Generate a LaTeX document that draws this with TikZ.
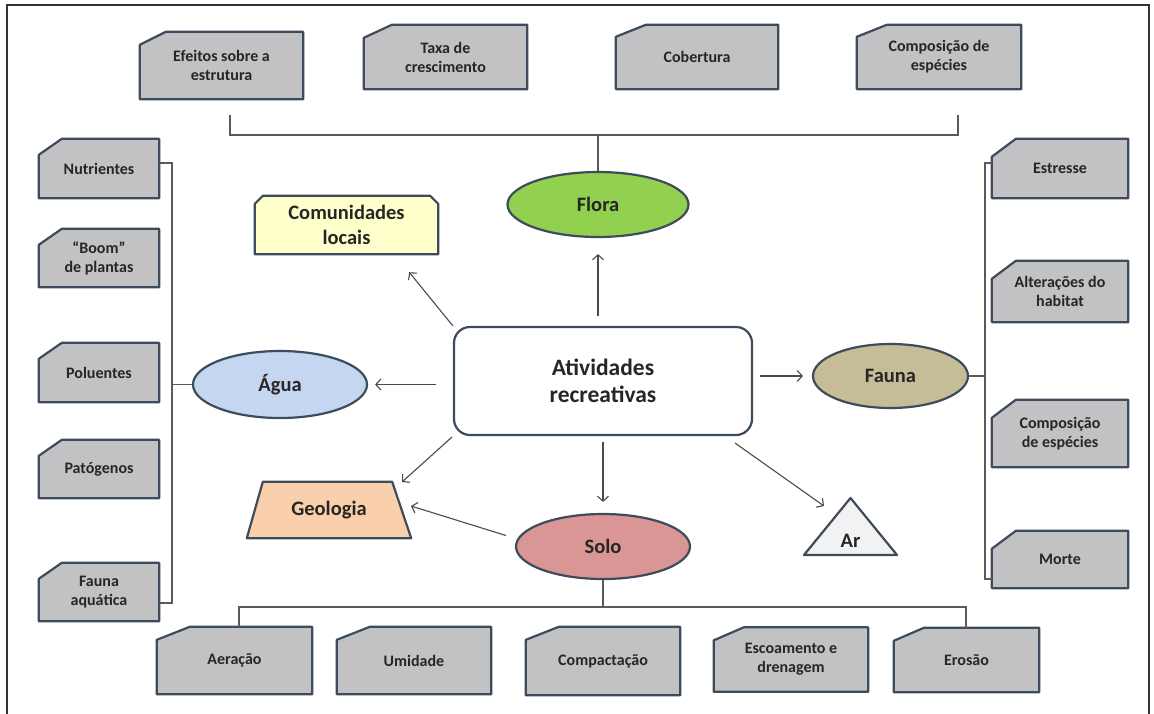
\documentclass[tikz,border=0pt]{standalone}
\usepackage{fontspec}
\setmainfont{Carlito}
\usetikzlibrary{shapes.geometric,arrows.meta,calc,backgrounds}
\definecolor{edge}{HTML}{3D4B5C}
\definecolor{boxfill}{HTML}{C2C2C4}
\definecolor{txt}{HTML}{262626}
\definecolor{arrc}{HTML}{4A4A4A}
\definecolor{brkc}{HTML}{5A5A5A}
\definecolor{florac}{HTML}{92D050}
\definecolor{aguac}{HTML}{C5D6F0}
\definecolor{soloc}{HTML}{D99694}
\definecolor{faunac}{HTML}{C4BD97}
\definecolor{geoc}{HTML}{FAD0AC}
\definecolor{comc}{HTML}{FFFFCC}
\definecolor{arc}{HTML}{F2F2F2}
% name, centre, width, height, text, chamfer x, chamfer y
\newcommand\chbox[7]{%
  \node[boxtxt,minimum width=#3pt,minimum height=#4pt] (#1) at (#2) {#5};
  \begin{pgfonlayer}{background}
  \draw[boxline] ([xshift=#6pt]#1.north west) -- (#1.north east) -- (#1.south east) -- (#1.south west) -- ([yshift=-#7pt]#1.north west) -- cycle;
  \end{pgfonlayer}}
\begin{document}
\begin{tikzpicture}[x=1pt,y=-1pt,
  boxtxt/.style={text=txt,font=\bfseries\fontsize{16}{19}\selectfont,align=center,inner sep=0pt},
  boxline/.style={draw=edge,fill=boxfill,line width=2.2pt,line join=round},
  midtxt/.style={text=txt,font=\bfseries\fontsize{20.5}{25}\selectfont,align=center,inner sep=0pt},
  ell/.style={ellipse,draw=edge,line width=2.2pt,inner sep=0pt,midtxt},
  shapeline/.style={draw=edge,line width=2.2pt,line join=round},
  arr/.style={draw=arrc,line width=1.1pt,-{Straight Barb[length=5pt,width=11pt]}},
  brk/.style={draw=brkc,line width=1.2pt},
  frame/.style={draw=black!80,line width=1.6pt}]
\useasboundingbox (0,0) rectangle (1154,713);
\begin{pgfonlayer}{background}
\fill[white] (0,0) rectangle (1154,713);
\end{pgfonlayer}
\draw[frame] (7,720) -- (7,5) -- (1149,5) -- (1149,720);

% top boxes
\chbox{efe}{221.5,65.5}{163}{67}{Efeitos sobre a\\estrutura}{26}{13}
\chbox{taxa}{445.5,57}{163}{64}{Taxa de\\crescimento}{28}{13}
\chbox{cob}{697,57}{162}{64}{Cobertura}{30}{12}
\chbox{comp}{939,57}{164}{64}{Composição de\\espécies}{30}{12}
% left boxes
\chbox{nut}{99,168.5}{120}{59}{Nutrientes}{23}{16}
\chbox{boom}{99,258}{120}{58}{“Boom”\\de plantas}{23}{16}
\chbox{polu}{99,372.5}{120}{59}{Poluentes}{23}{16}
\chbox{pato}{99,469}{120}{58}{Patógenos}{23}{16}
\chbox{faq}{99,592}{120}{58}{Fauna\\aquática}{23}{16}
% right boxes
\chbox{est}{1060,168.5}{136}{59}{Estresse}{24}{18}
\chbox{alt}{1060,291.5}{136}{61}{Alterações do\\habitat}{24}{18}
\chbox{cesp}{1060,433.5}{136}{67}{Composição\\de espécies}{24}{18}
\chbox{mor}{1060,559.5}{136}{57}{Morte}{24}{18}
% bottom boxes
\chbox{aer}{234.5,660.5}{155}{67}{Aeração}{33}{13}
\chbox{umi}{414,660.5}{154}{67}{Umidade}{33}{13}
\chbox{cpt}{603,661}{154}{68}{Compactação}{33}{13}
\chbox{esc}{791,659.5}{154}{64}{Escoamento e\\drenagem}{30}{13}
\chbox{ero}{966.5,660}{145}{64}{Erosão}{30}{13}

% central and theme nodes
\node[draw=edge,line width=2.2pt,fill=white,rounded corners=16pt,minimum width=298pt,minimum height=108pt,
  text=txt,font=\bfseries\fontsize{23.5}{27}\selectfont,align=center,inner sep=0pt] (act) at (603,381) {Atividades\\recreativas};
\node[ell,fill=florac,minimum width=181pt,minimum height=65pt] (flora) at (598,204.5) {Flora};
\node[ell,fill=aguac,minimum width=174pt,minimum height=67pt] (agua) at (280,384.5) {Água};
\node[ell,fill=faunac,minimum width=155pt,minimum height=64pt] (fauna) at (890.5,376) {Fauna};
\node[ell,fill=soloc,minimum width=174pt,minimum height=65pt] (solo) at (603,546.5) {Solo};

\node[midtxt,minimum width=183pt,minimum height=58pt] (com) at (346.5,225) {Comunidades\\locais};
\node[midtxt,minimum width=164pt,minimum height=56pt] (geo) at (329,510) {Geologia};
\node[midtxt] (ar) at (850.5,541) {Ar};
\begin{pgfonlayer}{background}
\draw[shapeline,fill=comc] (com.south west) -- ([yshift=-8pt]com.north west) -- ([xshift=8pt]com.north west)
  -- ([xshift=-8pt]com.north east) -- ([yshift=-8pt]com.north east) -- (com.south east) -- cycle;
\draw[shapeline,fill=geoc] (geo.south west) -- (geo.south east) -- ([xshift=-19pt]geo.north east) -- ([xshift=16pt]geo.north west) -- cycle;
\draw[shapeline,fill=arc] ($(ar)+(0,-43)$) -- ($(ar)+(46.5,14)$) -- ($(ar)+(-46.5,14)$) -- cycle;
\end{pgfonlayer}

% arrows
\draw[arr] (act.north west) -- ($(com.south east)+(-29,18)$);
\draw[arr,shorten <=10pt,shorten >=16pt] (flora.south |- act.north) -- (flora.south);
\draw[arr,shorten <=17pt,shorten >=7pt] (act.west |- agua.east) -- (agua.east);
\draw[arr,shorten <=7pt,shorten >=9pt] (act.east |- fauna.west) -- (fauna.west);
\draw[arr] ($(act.south west)+(-1,1)$) -- ($(geo.center)+(73,-28)$);
\draw[arr,shorten <=6pt,shorten >=11pt] (act.south) -- (solo.north);
\draw[arr] ($(solo.west)+(-9,-11)$) -- ($(geo.center)+(82,-4)$);
\draw[arr] ($(act.south east)+(-18,7)$) -- ($(ar)+(-26.5,-35)$);

% brackets
\coordinate (t1) at (230,135);
\coordinate (t2) at (958,135);
\coordinate (t1a) at (230,115);
\coordinate (t2a) at (958,115);
\draw[brk] (t1a) -- (t1) -- (t2) -- (t2a);
\draw[brk] (flora.north |- t1) -- (flora.north);

\coordinate (l1) at (172,163);
\coordinate (l2) at (172,603);
\draw[brk] (l1 -| nut.east) -- (l1) -- (l2) -- (l2 -| faq.east);
\draw[brk] (agua.west) -- (agua.west -| l1);

\coordinate (r1) at (985,163);
\coordinate (r2) at (985,579);
\draw[brk] (r1 -| est.west) -- (r1) -- (r2) -- (r2 -| mor.west);
\draw[brk] (fauna.east) -- (fauna.east -| r1);

\coordinate (b1) at (239,607);
\coordinate (b2) at (966,607);
\draw[brk] (b1 |- aer.north) -- (b1) -- (b2) -- (b2 |- ero.north);
\draw[brk] (solo.south) -- (solo.south |- b1);
\end{tikzpicture}
\end{document}
